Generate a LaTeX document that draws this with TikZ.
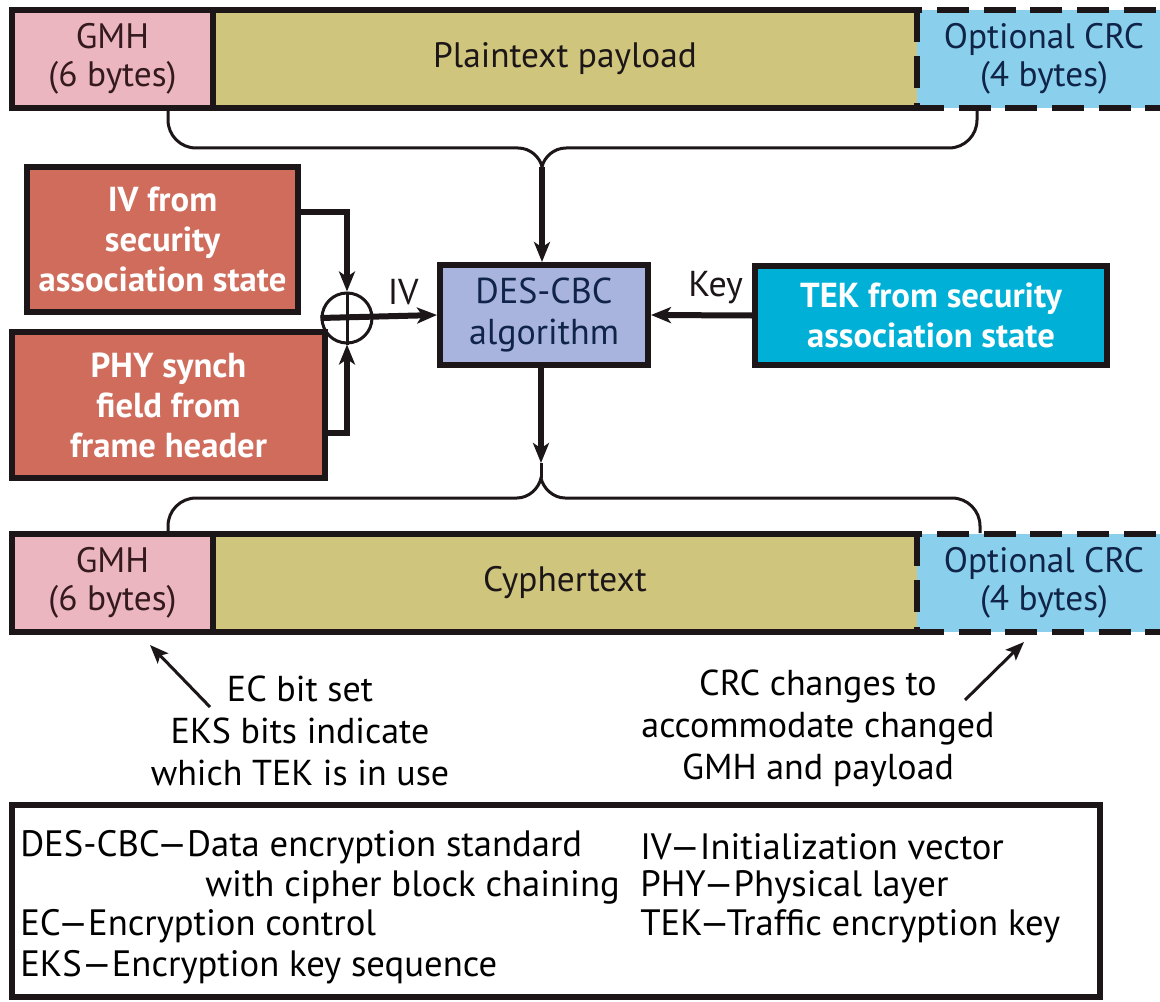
\documentclass[tikz,border=0pt]{standalone}
\usepackage{fontspec}
\setmainfont{PT Sans}
\usetikzlibrary{arrows.meta,calc}
\definecolor{gmhpink}{RGB}{236,182,192}
\definecolor{olivefill}{RGB}{207,197,124}
\definecolor{crcblue}{RGB}{138,208,236}
\definecolor{redbox}{RGB}{208,108,92}
\definecolor{desblue}{RGB}{168,180,222}
\definecolor{tekcyan}{RGB}{0,176,214}
\definecolor{ink}{RGB}{28,22,24}
\definecolor{navy}{RGB}{16,36,72}
\definecolor{brownink}{RGB}{52,26,30}
\begin{document}
\begin{tikzpicture}[x=0.75pt,y=-0.75pt,
  barfs/.style={font=\fontsize{26.5pt}{28.5pt}\selectfont},
  boxfs/.style={font=\fontsize{27pt}{31pt}\selectfont},
  field/.style={barfs, inner sep=0pt, align=center, minimum height=73.5pt},
  bord/.style={line width=4.5pt, draw=ink},
  dashbord/.style={line width=4.5pt, draw=ink, dash pattern=on 24pt off 11pt},
  blk/.style={draw=ink, line width=4.5pt, inner sep=0pt, align=center, boxfs},
  redb/.style={blk, fill=redbox, text=white, font=\fontsize{26pt}{30pt}\selectfont\bfseries},
  conn/.style={line width=4.5pt, draw=ink, -{Stealth[length=15pt,width=12pt,inset=4pt]}},
  brc/.style={line width=2.25pt, draw=ink},
  annarrow/.style={line width=2.25pt, draw=ink, -{Stealth[length=14pt,width=11pt,inset=3pt]}},
  annot/.style={font=\fontsize{27pt}{31.5pt}\selectfont, align=center, inner sep=0pt, text=black},
  leg/.style={font=\fontsize{27.5pt}{30pt}\selectfont, anchor=west, inner sep=0pt, text=black}
]
\useasboundingbox (0,0) rectangle (1160,1002);
\fill[white] (0,0) rectangle (1160,1002);
\clip (0,0) rectangle (1160,1002);

% ---------- top bar ----------
\node[field, fill=gmhpink, text=brownink, minimum width=150.75pt] (gmh1) at (112.5,59) {GMH\\(6 bytes)};
\node[field, fill=olivefill, text=ink, minimum width=528pt] (pay1) at (565,59) {Plaintext payload};
\node[field, fill=crcblue, text=navy, minimum width=190.5pt] (crc1) at (1044,59) {Optional CRC\\(4 bytes)};
\draw[bord] (pay1.north east) -- (gmh1.north west) -- (gmh1.south west) -- (pay1.south east);
\draw[bord] (gmh1.north east) -- (gmh1.south east);
\draw[dashbord] (pay1.north east) rectangle (crc1.south east);

% ---------- bottom bar ----------
\node[field, fill=gmhpink, text=brownink, minimum width=150.75pt] (gmh2) at (112.5,583) {GMH\\(6 bytes)};
\node[field, fill=olivefill, text=ink, minimum width=528pt] (pay2) at (565,583) {Cyphertext};
\node[field, fill=crcblue, text=navy, minimum width=190.5pt] (crc2) at (1044,583) {Optional CRC\\(4 bytes)};
\draw[bord] (pay2.north east) -- (gmh2.north west) -- (gmh2.south west) -- (pay2.south east);
\draw[bord] (gmh2.north east) -- (gmh2.south east);
\draw[dashbord] (pay2.north east) rectangle (crc2.south east);

% ---------- blocks ----------
\node[redb, minimum width=203.25pt, minimum height=108.75pt] (iv) at (162.5,239.5) {IV from\\security\\association state};
\node[redb, minimum width=234.75pt, minimum height=109.5pt] (phy) at (168.5,405) {PHY synch\\field from\\frame header};
\node[blk, fill=desblue, text=navy, minimum width=156pt, minimum height=75pt] (des) at (544,315) {DES-CBC\\algorithm};
\node[redb, fill=tekcyan, minimum width=264pt, minimum height=74.25pt] (tek) at (931,315.5) {TEK from security\\association state};
\node[circle, draw=ink, line width=2.25pt, minimum size=37.5pt, inner sep=0pt] (xor) at (347,318) {};
\draw[ink, line width=2.25pt] (xor.north) -- (xor.south);

% ---------- connectors ----------
\draw[conn] ([yshift=20.6pt]iv.east) -| (xor.north);
\draw[conn] ([yshift=-21pt]phy.east) -| (xor.south);
\draw[conn] (xor.west) -- (des.west) node[pos=0.71, above=3pt, boxfs, text=ink] (ivlab) {IV};
\draw[conn] (tek.west) -- (des.east) node[pos=0.36, above=3pt, boxfs, text=ink] (keylab) {Key};

% top brace
\coordinate (tbl) at (168,111);
\coordinate (tbr) at (977,111);
\coordinate (tcusp) at (542,167);
\draw[brc, rounded corners=21pt] (tbl) -- (168,148) -- (518,148);
\draw[brc] (518,148) .. controls (530,148) and (540,157) .. (tcusp) .. controls (544,157) and (554,148) .. (566,148);
\draw[brc, rounded corners=21pt] (566,148) -- (977,148) -- (tbr);
\draw[conn] (tcusp) -- (tcusp |- des.north);

% bottom brace
\coordinate (bbl) at (168,533);
\coordinate (bbr) at (980,533);
\coordinate (bcusp) at (541,478);
\coordinate (btip) at (541,463);
\draw[brc, rounded corners=21pt] (bbl) -- (168,498) -- (517,498);
\draw[brc] (517,498) .. controls (529,498) and (539,488) .. (bcusp) .. controls (543,488) and (553,498) .. (565,498);
\draw[brc, rounded corners=21pt] (565,498) -- (980,498) -- (bbr);
\draw[brc] (btip) -- (bcusp);
\draw[conn] (btip |- des.south) -- (btip);

% ---------- annotations ----------
\node[annot] (annl) at (300,731) {EC bit set\\EKS bits indicate\\which TEK is in use};
\node[annot] (annr) at (818,728) {CRC changes to\\accommodate changed\\GMH and payload};
\coordinate (al0) at (210,707);
\coordinate (al1) at (150,645);
\coordinate (ar0) at (965,700);
\coordinate (ar1) at (1024,642);
\draw[annarrow] (al0) -- (al1);
\draw[annarrow] (ar0) -- (ar1);

% ---------- legend ----------
\node[draw=ink, line width=4pt, minimum width=816pt, minimum height=144pt, inner sep=0pt] (legend) at (556,901) {};
\node[leg] (l1) at (20,847) {DES-CBC—Data encryption standard};
\node[leg] (l2) at (205,887) {with cipher block chaining};
\node[leg] (l3) at (20,926) {EC—Encryption control};
\node[leg] (l4) at (20,967) {EKS—Encryption key sequence};
\node[leg] (l5) at (640,847) {IV—Initialization vector};
\node[leg] (l6) at (640,887) {PHY—Physical layer};
\node[leg] (l7) at (640,926) {TEK—Traffic encryption key};
\end{tikzpicture}
\end{document}
